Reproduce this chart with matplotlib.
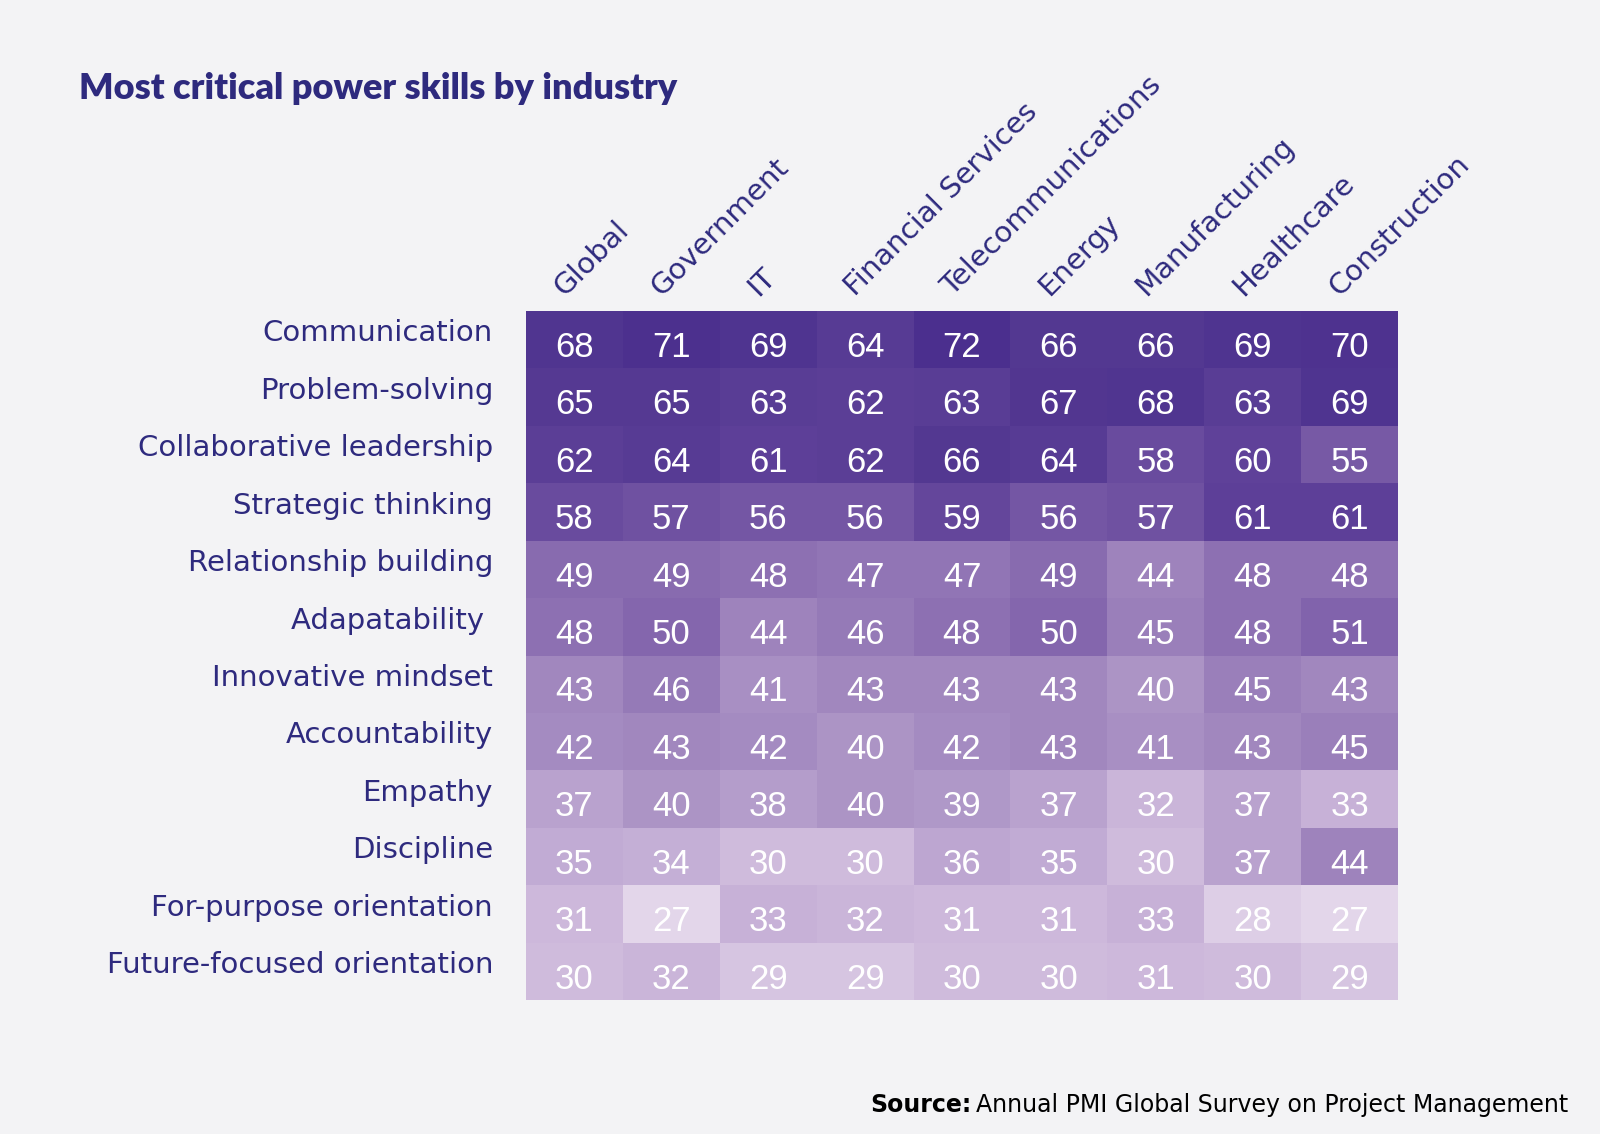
import numpy as np
import matplotlib
matplotlib.use('Agg')
import matplotlib.pyplot as plt
from matplotlib.colors import LinearSegmentedColormap, Normalize

# data
industries = ['Global', 'Government', 'IT', 'Financial Services', 'Telecommunications',
              'Energy', 'Manufacturing', 'Healthcare', 'Construction']
skills = ['Communication', 'Problem-solving', 'Collaborative leadership', 'Strategic thinking',
          'Relationship building', 'Adapatability ', 'Innovative mindset', 'Accountability',
          'Empathy', 'Discipline', 'For-purpose orientation', 'Future-focused orientation']
values = [
    [68, 71, 69, 64, 72, 66, 66, 69, 70],
    [65, 65, 63, 62, 63, 67, 68, 63, 69],
    [62, 64, 61, 62, 66, 64, 58, 60, 55],
    [58, 57, 56, 56, 59, 56, 57, 61, 61],
    [49, 49, 48, 47, 47, 49, 44, 48, 48],
    [48, 50, 44, 46, 48, 50, 45, 48, 51],
    [43, 46, 41, 43, 43, 43, 40, 45, 43],
    [42, 43, 42, 40, 42, 43, 41, 43, 45],
    [37, 40, 38, 40, 39, 37, 32, 37, 33],
    [35, 34, 30, 30, 36, 35, 30, 37, 44],
    [31, 27, 33, 32, 31, 31, 33, 28, 27],
    [30, 32, 29, 29, 30, 30, 31, 30, 29],
]

bg = '#f3f3f5'
navy = '#2e2a7e'
stops = [(27, '#e3d6ea'), (30, '#cfbbdc'), (35, '#c1abd4'), (40, '#ab93c5'),
         (45, '#9a7fba'), (50, '#8466ad'), (56, '#7456a4'), (60, '#5f4199'),
         (66, '#533891'), (72, '#4b2f8e')]
vmin, vmax = 27, 72
cmap = LinearSegmentedColormap.from_list(
    'pmi', [((v - vmin) / (vmax - vmin), c) for v, c in stops])

fig = plt.figure(figsize=(16, 11.34), dpi=100, facecolor=bg)
W, H = 1600, 1134
ax = fig.add_axes([526 / W, 1 - 1000 / H, (1398 - 526) / W, (1000 - 311) / H])
ax.set_facecolor(bg)

data = np.array(values)
ax.pcolormesh(data, cmap=cmap, norm=Normalize(vmin, vmax))
ax.set_xlim(0, len(industries))
ax.set_ylim(len(skills), 0)
ax.axis('off')

for i in range(len(skills)):
    for j in range(len(industries)):
        ax.text(j + 0.5, i + 0.80, str(values[i][j]), ha='center', va='baseline',
                color='white', fontsize=25, family=['Liberation Sans', 'DejaVu Sans'])
    ax.text(-0.34, i + 0.53, skills[i], ha='right', va='baseline', color=navy,
            fontsize=21, family='DejaVu Sans')

for j, name in enumerate(industries):
    ax.text(j + 0.40, -0.25, name, rotation=45, rotation_mode='anchor',
            ha='left', va='baseline', color=navy, fontsize=21, family='DejaVu Sans')

fig.text(79 / W, 1 - 99 / H, 'Most critical power skills by industry', ha='left',
         va='baseline', color=navy, fontsize=26, fontweight='heavy', family=['Lato', 'DejaVu Sans'])

src = fig.text(1568 / W, 1 - 1112 / H, 'Annual PMI Global Survey on Project Management',
               ha='right', va='baseline', color='black', fontsize=17, family='DejaVu Sans')
fig.canvas.draw()
bb = src.get_window_extent()
fig.text(bb.x0 / W - 4 / W, 1 - 1112 / H, 'Source:', ha='right', va='baseline',
         color='black', fontsize=17, fontweight='bold', family='DejaVu Sans')

fig.savefig('out.png', dpi=100, facecolor=bg)
